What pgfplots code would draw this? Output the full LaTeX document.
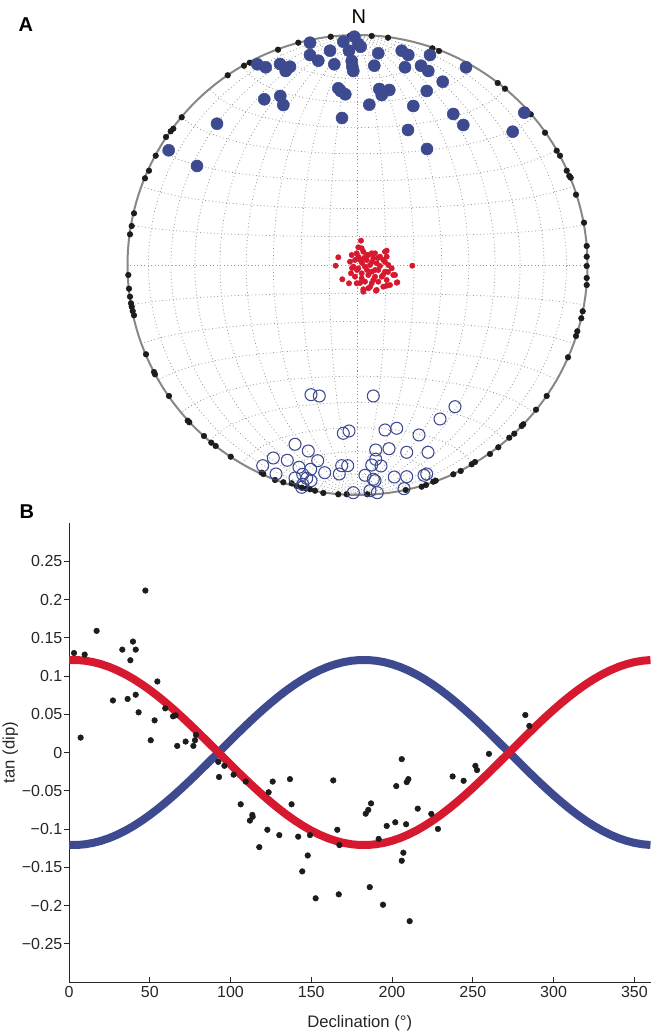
\documentclass[border=0pt]{standalone}
\usepackage{fontspec}
\setmainfont{Liberation Sans}
\usepackage{pgfplots}
\pgfplotsset{compat=1.18}

\definecolor{netblue}{RGB}{61,74,143}
\definecolor{netred}{RGB}{215,25,48}
\definecolor{dotblack}{RGB}{28,28,28}
\definecolor{primgray}{RGB}{135,135,135}
\definecolor{gridgray}{RGB}{150,150,150}

\pgfplotsset{
  netgrid/.style={gridgray, line width=0.6bp, dotted, mark=none},
}

\begin{document}
\begin{tikzpicture}

% ---------------- A: equal-area net (radius 230 net units) ----------------
\begin{axis}[
  at={(268.125bp,576bp)}, anchor=center,
  scale only axis, width=345bp, height=345bp,
  xmin=-230, xmax=230, ymin=-230, ymax=230,
  hide axis, clip=false,
]
% graticule: great circles through N and S, and small circles about the N-S axis
\pgfplotsinvokeforeach{10,20,...,170}{
  \addplot[netgrid, domain=0:180, samples=91, variable=\t]
    ({230*sin(\t)*cos(#1)/sqrt(1+sin(\t)*sin(#1))}, {230*cos(\t)/sqrt(1+sin(\t)*sin(#1))});
  \addplot[netgrid, domain=0:180, samples=91, variable=\t]
    ({230*sin(#1)*cos(\t)/sqrt(1+sin(#1)*sin(\t))}, {230*cos(#1)/sqrt(1+sin(#1)*sin(\t))});
}
% primitive
\addplot[primgray, line width=1.5bp, domain=0:360, samples=181, variable=\t]
  ({230*cos(\t)}, {230*sin(\t)});

% horizontal directions on the primitive
\addplot[only marks, mark=*, mark size=2.1bp, draw=dotblack, fill=dotblack] coordinates {
(-227.5,30.7) (-225.8,39) (-223.5,51.7) (-212.5,86.7) (-208.5,94.3) (-201.8,109.3)
(-191.5,128) (-186.8,133.7) (-184.2,136.3) (-175.8,147.7) (-129.8,189.7) (-113.5,199.3)
(-107.8,202.3) (-79.5,215.3) (-59.2,222.3) (-26.8,228.3) (-7.5,229.3) (-4.8,229.3)
(14.2,229) (30.5,227.3) (74.8,216.7) (81.5,214) (140.2,182) (147.5,176.3)
(168.5,155) (173.2,150.7) (187.5,132.3) (199.2,114.3) (202.5,109.3) (209.2,94.3)
(211.8,89) (213.2,87.3) (218.5,70.3) (226.5,42.3) (229.2,19) (229.2,8.3)
(229.2,-1) (229.2,-13) (229.2,-20) (225.2,-46.3) (223.8,-53.3) (219.8,-66.3)
(218.5,-71) (210.5,-92.3) (189.2,-131) (178.5,-144.7) (165.8,-159.3) (164.2,-161)
(156.8,-168.7) (151.8,-172.7) (140.8,-182.3) (132.5,-189) (117.5,-197) (114.2,-199.3)
(103.2,-206) (95.8,-209.3) (78.2,-215.7) (75.8,-216.7) (68.5,-220) (64.2,-221.7)
(48.2,-225) (9.8,-229.3) (-10.8,-229.3) (-19.2,-229.3) (-34.2,-228) (-42.5,-225.7)
(-47.5,-224.3) (-51.5,-223.5) (-55.8,-222.7) (-60.8,-221) (-65.8,-218.3) (-74.2,-217.3)
(-82.5,-215) (-95.8,-207.7) (-94.2,-209) (-126.8,-191.7) (-141.8,-181) (-146.2,-177.7)
(-153.5,-171) (-168.2,-157.3) (-169.8,-155.7) (-188.5,-131) (-202.5,-109.3) (-203.5,-107)
(-211.5,-89.3) (-223.5,-50.3) (-224.8,-46) (-225.8,-41.7) (-226.5,-38.3) (-227.5,-31.7)
(-228.5,-23.7) (-229.2,-10)
};

% lower-hemisphere directions (filled)
\addplot[only marks, mark=*, mark size=4.5bp, draw=netblue, fill=netblue] coordinates {
(-47.5,222.3) (-14.2,223.3) (-3.2,228.3) (0.8,221) (3.2,218.3) (-27.5,214.3)
(-8.5,214.3) (-47.5,210) (-39.2,204.3) (-23.2,200.7) (-5.8,204) (-5.2,198.3)
(-4.2,194) (20.8,211.7) (16.8,199.3) (44.2,214.3) (50.8,210) (72.5,210)
(47.5,197.7) (63.5,199.3) (70.8,194) (108.5,197.7) (85.2,183.3) (69.2,174)
(-100.2,200.7) (-91.8,197.7) (-77.5,201) (-71.8,194) (-67.5,198.3) (-93.2,165.7)
(-77.2,169) (-74.2,160) (-19.2,176.7) (-16.8,174) (-12.2,170.7) (-15.5,147)
(11.8,160.3) (21.8,176) (24.2,170) (31.8,175) (55.8,159) (95.8,151)
(105.8,140) (50.5,135) (69.5,116) (166.8,152.3) (155.2,133.3) (-140.5,141.3)
(-188.8,114.7) (-160.5,99)
};

% steep directions near the centre
\addplot[only marks, mark=*, mark size=2bp, draw=netred, fill=netred] coordinates {
(3.5,24.3) (0.8,17.7) (-19.2,7.7) (-21.8,-0.7) (54.8,-0.7) (-15.2,-14.3)
(-8.5,-18.3) (-6.5,-8.3) (-4.2,-1.7) (-2.5,5) (-0.8,11.7) (5.8,13.3)
(10.8,10) (17.5,11.7) (27.5,13.3) (29.2,8.3) (25.8,5) (30.8,0)
(34.2,-3.3) (35.8,-10) (39.2,-17.7) (27.5,-6.7) (24.2,-11.7) (29.2,-15)
(20.8,-16.7) (17.5,-11.7) (14.2,-18.3) (19.2,-25) (10.8,-23.3) (5.8,-24.3)
(7.5,-16.7) (4.2,-8.3) (0.8,-3.3) (7.5,-1.7) (12.5,0) (19.2,1.7)
(20.8,-5) (14.2,-6.7) (9.2,5) (2.5,5) (15.8,6.7) (22.5,8.3)
(4.2,16.7) (-5.8,10) (-7.5,3.3) (-2.5,-11.7) (-0.8,-18.3) (25.8,-21.7)
(32.5,-20) (4.2,-13.3) (10.8,-10) (15.8,-15) (14.2,11.7) (0.8,8.3)
(5.8,-26.7) (18.5,-25.7) (29.2,-20.7) (39.8,-17.3) (37.5,-10) (29.2,14.3)
(4.5,2) (-0.5,-5) (9.5,-5) (14.5,3) (22.5,-1) (25.5,-10)
(20.5,7) (9.5,10) (-5.5,-3) (2.5,-18) (12.5,-22) (27.5,3)
(30.5,-7) (6.5,7) (17.5,-5)
};

% upper-hemisphere directions (open)
\addplot[only marks, mark=o, mark size=4.5bp, draw=netblue, line width=0.8bp] coordinates {
(-46.5,-129.7) (-38.2,-131) (15.8,-131) (97.5,-141.7) (82.5,-154) (-14.2,-168.3)
(-8.5,-166) (27.5,-165) (39.2,-163.3) (61.5,-170) (-62.5,-179.3) (-49.2,-186)
(-39.8,-195.7) (-84.2,-193) (-70.2,-195.3) (-94.8,-200.7) (-58.5,-202.3) (-46.8,-204.3)
(-32.8,-207.7) (-81.5,-209) (-62.5,-213) (-54.8,-209.3) (-50.8,-213.3) (-46.5,-215.7)
(-54.8,-219.3) (-55.8,-222.3) (-15.8,-200.7) (-9.8,-200.7) (-18.2,-209) (18.2,-185)
(31.5,-183.7) (49.2,-187.3) (70.5,-187.3) (18.2,-194.3) (14.2,-200) (23.5,-201)
(7.5,-210.3) (15.8,-214.3) (17.5,-215.7) (36.8,-212) (49.2,-211.7) (66.5,-210.3)
(69.2,-209) (46.5,-223.7) (-4.2,-227.7) (12.5,-225.7) (19.8,-227.7)
};
\end{axis}

\node[anchor=base west, font=\fontsize{15bp}{18bp}\selectfont\bfseries] at (10.5bp,751bp) {A};
\node[anchor=base, font=\fontsize{15bp}{18bp}\selectfont] at (269.1bp,757.3bp) {N};

% ---------------- B: tan(dip) against declination ----------------
\begin{axis}[
  at={(51.75bp,38.25bp)}, anchor=south west,
  scale only axis, width=436.125bp, height=344.25bp,
  xmin=0, xmax=360, ymin=-0.3, ymax=0.3,
  axis lines=left,
  axis line style={-, line width=0.6bp, black!85},
  tick align=inside,
  major tick length=3.5bp,
  tick style={line width=0.6bp, black!85},
  ytick style={xshift=-3.5bp},
  xtick={0,50,100,150,200,250,300,350},
  xticklabels={0,50,100,150,200,250,300,350},
  ytick={-0.25,-0.2,-0.15,-0.1,-0.05,0,0.05,0.1,0.15,0.2,0.25},
  yticklabels={−0.25,−0.2,−0.15,−0.1,−0.05,0,0.05,0.1,0.15,0.2,0.25},
  ticklabel style={font=\fontsize{12bp}{14bp}\selectfont, text=black!85},
  yticklabel style={xshift=-1.5bp},
  xlabel={Declination (°)}, ylabel={tan (dip)},
  label style={font=\fontsize{12.5bp}{15bp}\selectfont, text=black!85},
  xlabel style={at={(axis description cs:0.5,0)}, anchor=base, yshift=-34.5bp},
  ylabel style={at={(axis description cs:-0.0935,0.5)}, anchor=base},
]
% expected tan(dip) for the two polarities
\addplot[netblue, line width=6bp, mark=none] table {
x y
0 -0.12089
5 -0.12089
10 -0.11996
15 -0.11813
20 -0.11540
25 -0.11179
30 -0.10733
35 -0.10205
40 -0.09600
45 -0.08921
50 -0.08175
55 -0.07366
60 -0.06501
65 -0.05587
70 -0.04630
75 -0.03639
80 -0.02619
85 -0.01579
90 -0.00528
95 0.00528
100 0.01579
105 0.02619
110 0.03639
115 0.04630
120 0.05587
125 0.06501
130 0.07366
135 0.08175
140 0.08921
145 0.09600
150 0.10205
155 0.10733
160 0.11179
165 0.11540
170 0.11813
175 0.11996
180 0.12089
185 0.12089
190 0.11996
195 0.11813
200 0.11540
205 0.11179
210 0.10733
215 0.10205
220 0.09600
225 0.08921
230 0.08175
235 0.07366
240 0.06501
245 0.05587
250 0.04630
255 0.03639
260 0.02619
265 0.01579
270 0.00528
275 -0.00528
280 -0.01579
285 -0.02619
290 -0.03639
295 -0.04630
300 -0.05587
305 -0.06501
310 -0.07366
315 -0.08175
320 -0.08921
325 -0.09600
330 -0.10205
335 -0.10733
340 -0.11179
345 -0.11540
350 -0.11813
355 -0.11996
360 -0.12089
};
\addplot[netred, line width=6bp, mark=none] table {
x y
0 0.12089
5 0.12089
10 0.11996
15 0.11813
20 0.11540
25 0.11179
30 0.10733
35 0.10205
40 0.09600
45 0.08921
50 0.08175
55 0.07366
60 0.06501
65 0.05587
70 0.04630
75 0.03639
80 0.02619
85 0.01579
90 0.00528
95 -0.00528
100 -0.01579
105 -0.02619
110 -0.03639
115 -0.04630
120 -0.05587
125 -0.06501
130 -0.07366
135 -0.08175
140 -0.08921
145 -0.09600
150 -0.10205
155 -0.10733
160 -0.11179
165 -0.11540
170 -0.11813
175 -0.11996
180 -0.12089
185 -0.12089
190 -0.11996
195 -0.11813
200 -0.11540
205 -0.11179
210 -0.10733
215 -0.10205
220 -0.09600
225 -0.08921
230 -0.08175
235 -0.07366
240 -0.06501
245 -0.05587
250 -0.04630
255 -0.03639
260 -0.02619
265 -0.01579
270 -0.00528
275 0.00528
280 0.01579
285 0.02619
290 0.03639
295 0.04630
300 0.05587
305 0.06501
310 0.07366
315 0.08175
320 0.08921
325 0.09600
330 0.10205
335 0.10733
340 0.11179
345 0.11540
350 0.11813
355 0.11996
360 0.12089
};
% measured sites
\addplot[only marks, mark=*, mark size=2.1bp, draw=dotblack, fill=dotblack] table {
x y
3.1 0.130
9.7 0.128
7.2 0.0195
17.1 0.159
27.2 0.068
33.0 0.1345
36.3 0.070
38.0 0.1206
39.6 0.145
41.3 0.1345
41.3 0.0755
43.1 0.0525
47.3 0.2117
50.6 0.016
53.0 0.042
54.7 0.0928
59.6 0.0577
64.4 0.0473
66.0 0.0486
67.0 0.0086
72.2 0.0143
77.0 0.0086
78.0 0.016
78.6 0.023
92.4 -0.0122
92.9 -0.032
96.2 -0.0174
101.9 -0.029
109.4 -0.038
106.3 -0.0677
112.0 -0.089
113.5 -0.0816
113.7 -0.084
117.8 -0.1237
122.8 -0.101
123.6 -0.052
126.1 -0.038
130.2 -0.108
136.8 -0.0348
137.8 -0.0677
141.9 -0.110
144.4 -0.1554
147.8 -0.1346
149.2 -0.108
152.7 -0.1906
163.6 -0.0365
166.1 -0.101
167.4 -0.121
167.0 -0.1854
183.7 -0.080
185.3 -0.075
187.0 -0.0665
186.2 -0.176
191.7 -0.113
194.4 -0.199
196.7 -0.096
202.0 -0.0912
202.6 -0.0439
207.0 -0.131
206.0 -0.1415
208.7 -0.0938
209.1 -0.0387
210.1 -0.0348
210.9 -0.2205
215.9 -0.0734
224.3 -0.0803
228.4 -0.0999
237.5 -0.0313
244.3 -0.037
251.6 -0.0174
252.6 -0.023
206.0 -0.0087
260.0 -0.0018
282.5 0.049
285.0 0.0347
};
\end{axis}

\node[anchor=base west, font=\fontsize{15bp}{18bp}\selectfont\bfseries] at (11.25bp,386bp) {B};

\pgfresetboundingbox
\path[use as bounding box] (0bp,0bp) rectangle (495bp,774.75bp);
\end{tikzpicture}
\end{document}
